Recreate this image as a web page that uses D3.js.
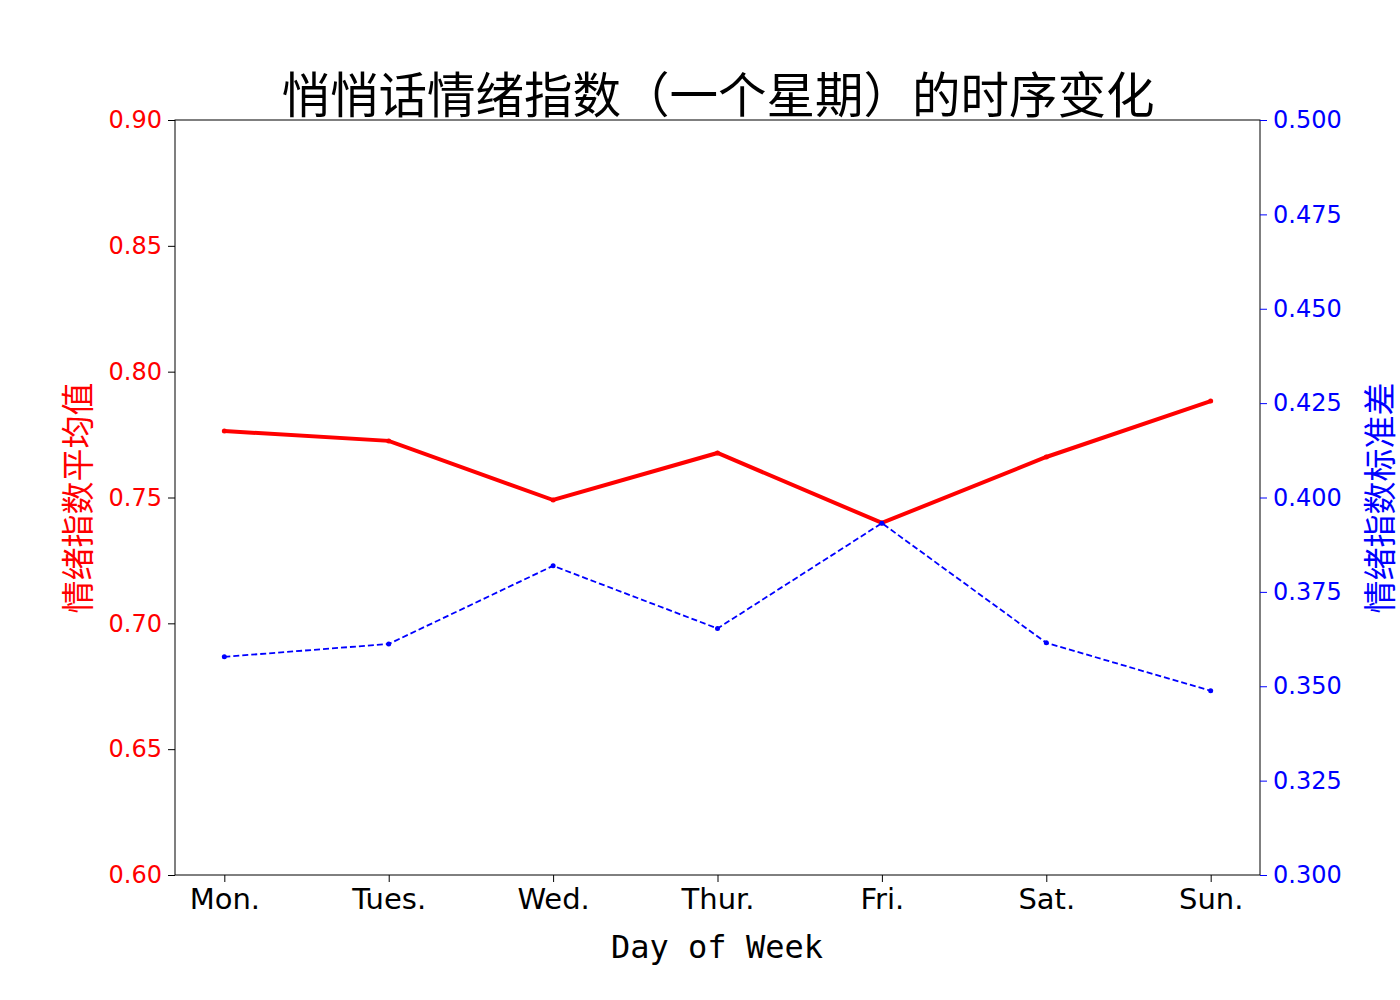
<!DOCTYPE html>
<html><head><meta charset="utf-8">
<script src="https://cdn.jsdelivr.net/npm/d3@7"></script>
<style>body{margin:0;background:#fff}</style>
</head><body>
<svg id="chart" width="1400" height="1000"></svg>
<script>
const days = ["Mon.", "Tues.", "Wed.", "Thur.", "Fri.", "Sat.", "Sun."];
const meanVals = [0.7764, 0.7725, 0.749, 0.7677, 0.7399, 0.7661, 0.7883];
const stdVals = [0.3578, 0.3612, 0.3819, 0.3653, 0.3932, 0.3615, 0.3488];
const leftTicks = [0.60, 0.65, 0.70, 0.75, 0.80, 0.85, 0.90];
const rightTicks = [0.300, 0.325, 0.350, 0.375, 0.400, 0.425, 0.450, 0.475, 0.500];

const svg = d3.select('#chart');
const margin = { top: 120, right: 140, bottom: 125, left: 175 };
const innerWidth = 1400 - margin.left - margin.right;
const innerHeight = 1000 - margin.top - margin.bottom;
const g = svg.append('g').attr('transform', `translate(${margin.left},${margin.top})`);

const xScale = d3.scalePoint().domain(days).range([0, innerWidth]).padding(0.3);
const yLeft = d3.scaleLinear().domain([0.6, 0.9]).range([innerHeight, 0]);
const yRight = d3.scaleLinear().domain([0.3, 0.5]).range([innerHeight, 0]);

g.append('rect').attr('width', innerWidth).attr('height', innerHeight)
    .style('fill', 'none').style('stroke', '#000').style('stroke-width', 1);

const xAxis = g.append('g').attr('transform', `translate(0,${innerHeight})`)
    .call(d3.axisBottom(xScale).tickSizeOuter(0).tickSize(7).tickPadding(6));
xAxis.selectAll('text').style('font-family', 'DejaVu Sans').style('font-size', '29px').style('fill', '#000');

const la = g.append('g').call(d3.axisLeft(yLeft).tickValues(leftTicks).tickFormat(d3.format('.2f')).tickSizeOuter(0).tickSize(7).tickPadding(6));
la.selectAll('text').style('font-family', 'DejaVu Sans').style('font-size', '24px').style('fill', 'red');
la.selectAll('line').style('stroke', '#000');

const ra = g.append('g').attr('transform', `translate(${innerWidth},0)`)
    .call(d3.axisRight(yRight).tickValues(rightTicks).tickFormat(d3.format('.3f')).tickSizeOuter(0).tickSize(7).tickPadding(6));
ra.selectAll('text').style('font-family', 'DejaVu Sans').style('font-size', '24px').style('fill', 'blue');
ra.selectAll('line').style('stroke', 'blue');
[xAxis, la, ra].forEach(a => a.select('.domain').remove());

const meanLine = d3.line().x((d, i) => xScale(days[i])).y(d => yLeft(d));
const stdLine = d3.line().x((d, i) => xScale(days[i])).y(d => yRight(d));

g.append('path').datum(meanVals).attr('d', meanLine)
    .style('fill', 'none').style('stroke', 'red').style('stroke-width', 4);
g.selectAll('.mp').data(meanVals).enter().append('circle')
    .attr('cx', (d, i) => xScale(days[i])).attr('cy', d => yLeft(d)).attr('r', 2.5).style('fill', 'red');

g.append('path').datum(stdVals).attr('d', stdLine)
    .style('fill', 'none').style('stroke', 'blue').style('stroke-width', 1.8).style('stroke-dasharray', '6,3');
g.selectAll('.sp').data(stdVals).enter().append('circle')
    .attr('cx', (d, i) => xScale(days[i])).attr('cy', d => yRight(d)).attr('r', 2.5).style('fill', 'blue');

svg.append('text').attr('x', 718).attr('y', 113).attr('text-anchor', 'middle')
    .style('font-family', 'Noto Sans CJK SC').style('font-size', '48.5px')
    .text('悄悄话情绪指数（一个星期）的时序变化');
svg.append('text').attr('x', 717).attr('y', 958).attr('text-anchor', 'middle')
    .style('font-family', 'DejaVu Sans Mono').style('font-size', '32px')
    .text('Day of Week');
svg.append('text').attr('transform', 'translate(90,498) rotate(-90)').attr('text-anchor', 'middle')
    .style('font-family', 'Noto Sans CJK SC').style('font-size', '33px').style('fill', 'red')
    .text('情绪指数平均值');
svg.append('text').attr('transform', 'translate(1392,498) rotate(-90)').attr('text-anchor', 'middle')
    .style('font-family', 'Noto Sans CJK SC').style('font-size', '33px').style('fill', 'blue')
    .text('情绪指数标准差');
</script>
</body></html>
